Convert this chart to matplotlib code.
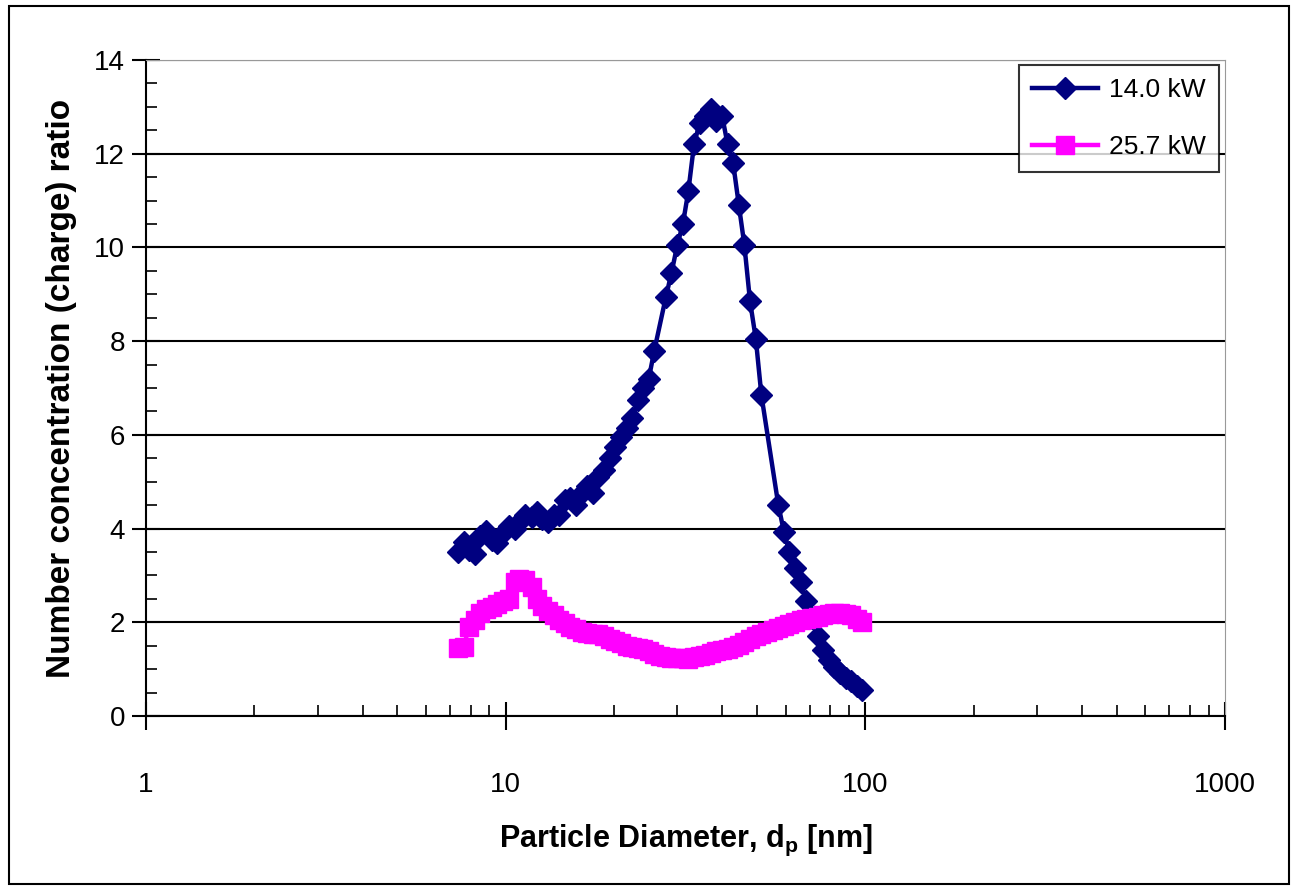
import matplotlib.pyplot as plt
from matplotlib.ticker import MultipleLocator, LogLocator, NullFormatter, FixedLocator, FixedFormatter
from matplotlib.patches import Rectangle

plt.rcParams['font.family'] = ['Liberation Sans', 'DejaVu Sans']

# Diámetros de partícula (nm) - canales SMPS, serie 14.0 kW
dp_14 = [7.37, 7.64, 7.91, 8.20, 8.51, 8.82, 9.14, 9.47, 9.82, 10.2,
         10.6, 10.9, 11.3, 11.8, 12.2, 12.6, 13.1, 13.6, 14.1, 14.6,
         15.1, 15.7, 16.3, 16.8, 17.5, 18.1, 18.8, 19.5, 20.2, 20.9,
         21.7, 22.5, 23.3, 24.1, 25.0, 25.9, 27.9, 28.9, 30.0,
         31.1, 32.2, 33.4, 34.6, 35.9, 37.2, 38.5, 40.0, 41.4, 42.9,
         44.5, 46.1, 47.8, 49.6, 51.4, 57.3, 59.4, 61.5,
         63.8, 66.1, 68.5, 71.0, 73.7, 76.4, 79.1, 82.0, 85.1, 88.2,
         91.4, 94.7, 98.2]
ratio_14 = [3.50, 3.72, 3.55, 3.45, 3.85, 3.95, 3.75, 3.70, 3.90, 4.05,
            4.00, 4.15, 4.30, 4.25, 4.35, 4.20, 4.15, 4.30, 4.30, 4.60,
            4.65, 4.50, 4.75, 4.90, 4.75, 5.10, 5.25, 5.50, 5.75, 5.95,
            6.15, 6.35, 6.75, 7.00, 7.20, 7.80, 8.95, 9.45, 10.05,
            10.50, 11.20, 12.20, 12.65, 12.80, 12.95, 12.70, 12.80, 12.20, 11.80,
            10.90, 10.05, 8.85, 8.05, 6.85, 4.50, 3.93, 3.50,
            3.15, 2.85, 2.45, 2.10, 1.70, 1.40, 1.20, 1.05, 0.92, 0.82,
            0.75, 0.65, 0.55]

# Serie 25.7 kW
dp_25 = [7.37, 7.64, 7.91, 8.20, 8.51, 8.82, 9.14, 9.47, 9.82, 10.2,
         10.6, 10.9, 11.3, 11.8, 12.2, 12.6, 13.1, 13.6, 14.1, 14.6,
         15.1, 15.7, 16.3, 16.8, 17.5, 18.1, 18.8, 19.5, 20.2, 20.9,
         21.7, 22.5, 23.3, 24.1, 25.0, 25.9, 26.9, 27.9, 28.9, 30.0,
         31.1, 32.2, 33.4, 34.6, 35.9, 37.2, 38.5, 40.0, 41.4, 42.9,
         44.5, 46.1, 47.8, 49.6, 51.4, 53.3, 55.2, 57.3, 59.4, 61.5,
         63.8, 66.1, 68.5, 71.0, 73.7, 76.4, 79.1, 82.0, 85.1, 88.2,
         91.4, 94.7, 98.2]
ratio_25 = [1.45, 1.48, 1.90, 2.05, 2.20, 2.28, 2.33, 2.38, 2.45, 2.50,
            2.85, 2.92, 2.90, 2.75, 2.50, 2.35, 2.25, 2.15, 2.05, 1.98,
            1.90, 1.85, 1.80, 1.77, 1.76, 1.75, 1.70, 1.65, 1.60, 1.56,
            1.50, 1.47, 1.45, 1.42, 1.38, 1.33, 1.28, 1.25, 1.24, 1.24,
            1.24, 1.22, 1.26, 1.27, 1.30, 1.35, 1.38, 1.40, 1.43, 1.47,
            1.52, 1.58, 1.65, 1.70, 1.75, 1.80, 1.84, 1.88, 1.92, 1.96,
            2.00, 2.04, 2.06, 2.10, 2.12, 2.15, 2.18, 2.20, 2.20, 2.18,
            2.15, 2.08, 2.00]

fig = plt.figure(figsize=(12.97, 8.90), dpi=100)
ax = fig.add_axes([146/1297, 1 - 716/890, (1225 - 146)/1297, (716 - 60)/890])

ax.plot(dp_14, ratio_14, color='#000080', lw=3.2, marker='D', ms=11,
        label='14.0 kW', zorder=3)
ax.plot(dp_25, ratio_25, color='#FF00FF', lw=3.2, marker='s', ms=13,
        label='25.7 kW', zorder=4)

ax.set_xscale('log')
ax.set_xlim(1, 1000)
ax.set_ylim(0, 14)
ax.xaxis.set_major_locator(FixedLocator([1, 10, 100, 1000]))
ax.xaxis.set_major_formatter(FixedFormatter(['1', '10', '100', '1000']))
ax.xaxis.set_minor_locator(LogLocator(base=10, subs=range(2, 10)))
ax.xaxis.set_minor_formatter(NullFormatter())
ax.yaxis.set_major_locator(MultipleLocator(2))
ax.yaxis.set_minor_locator(MultipleLocator(0.5))

ax.tick_params(which='major', direction='inout', length=20, width=1.5,
               labelsize=20, colors='black')
ax.tick_params(which='minor', direction='in', length=8, width=1.2)
ax.tick_params(axis='y', which='major', pad=5)
ax.tick_params(axis='x', which='major', pad=30)

ax.grid(axis='y', which='major', color='black', lw=1.5)
ax.set_axisbelow(True)
ax.yaxis.get_gridlines()[-1].set_color('#999999')

ax.spines['left'].set_linewidth(1.5)
ax.spines['bottom'].set_linewidth(1.5)
ax.spines['right'].set_color('#999999')
ax.spines['top'].set_color('#999999')

ax.set_xlabel('Particle Diameter, d$_\\mathregular{p}$ [nm]', fontsize=22,
              fontweight='bold', labelpad=18)
ax.set_ylabel('Number concentration (charge) ratio', fontsize=24,
              fontweight='bold', labelpad=12)

leg = ax.legend(loc='upper right', bbox_to_anchor=(1219/1297, 1 - 65/890),
                bbox_transform=fig.transFigure, fontsize=19, frameon=True,
                fancybox=False, edgecolor='black', borderaxespad=0,
                handlelength=2.5, labelspacing=1.25, borderpad=0.5,
                handletextpad=0.4)
leg.get_frame().set_linewidth(1.5)

# marco exterior
fig.patches.append(Rectangle((9/1297, 6/890), 1 - 17/1297, 1 - 12/890,
                             transform=fig.transFigure, fill=False,
                             edgecolor='black', lw=1.5))

fig.savefig('out.png', dpi=100)
